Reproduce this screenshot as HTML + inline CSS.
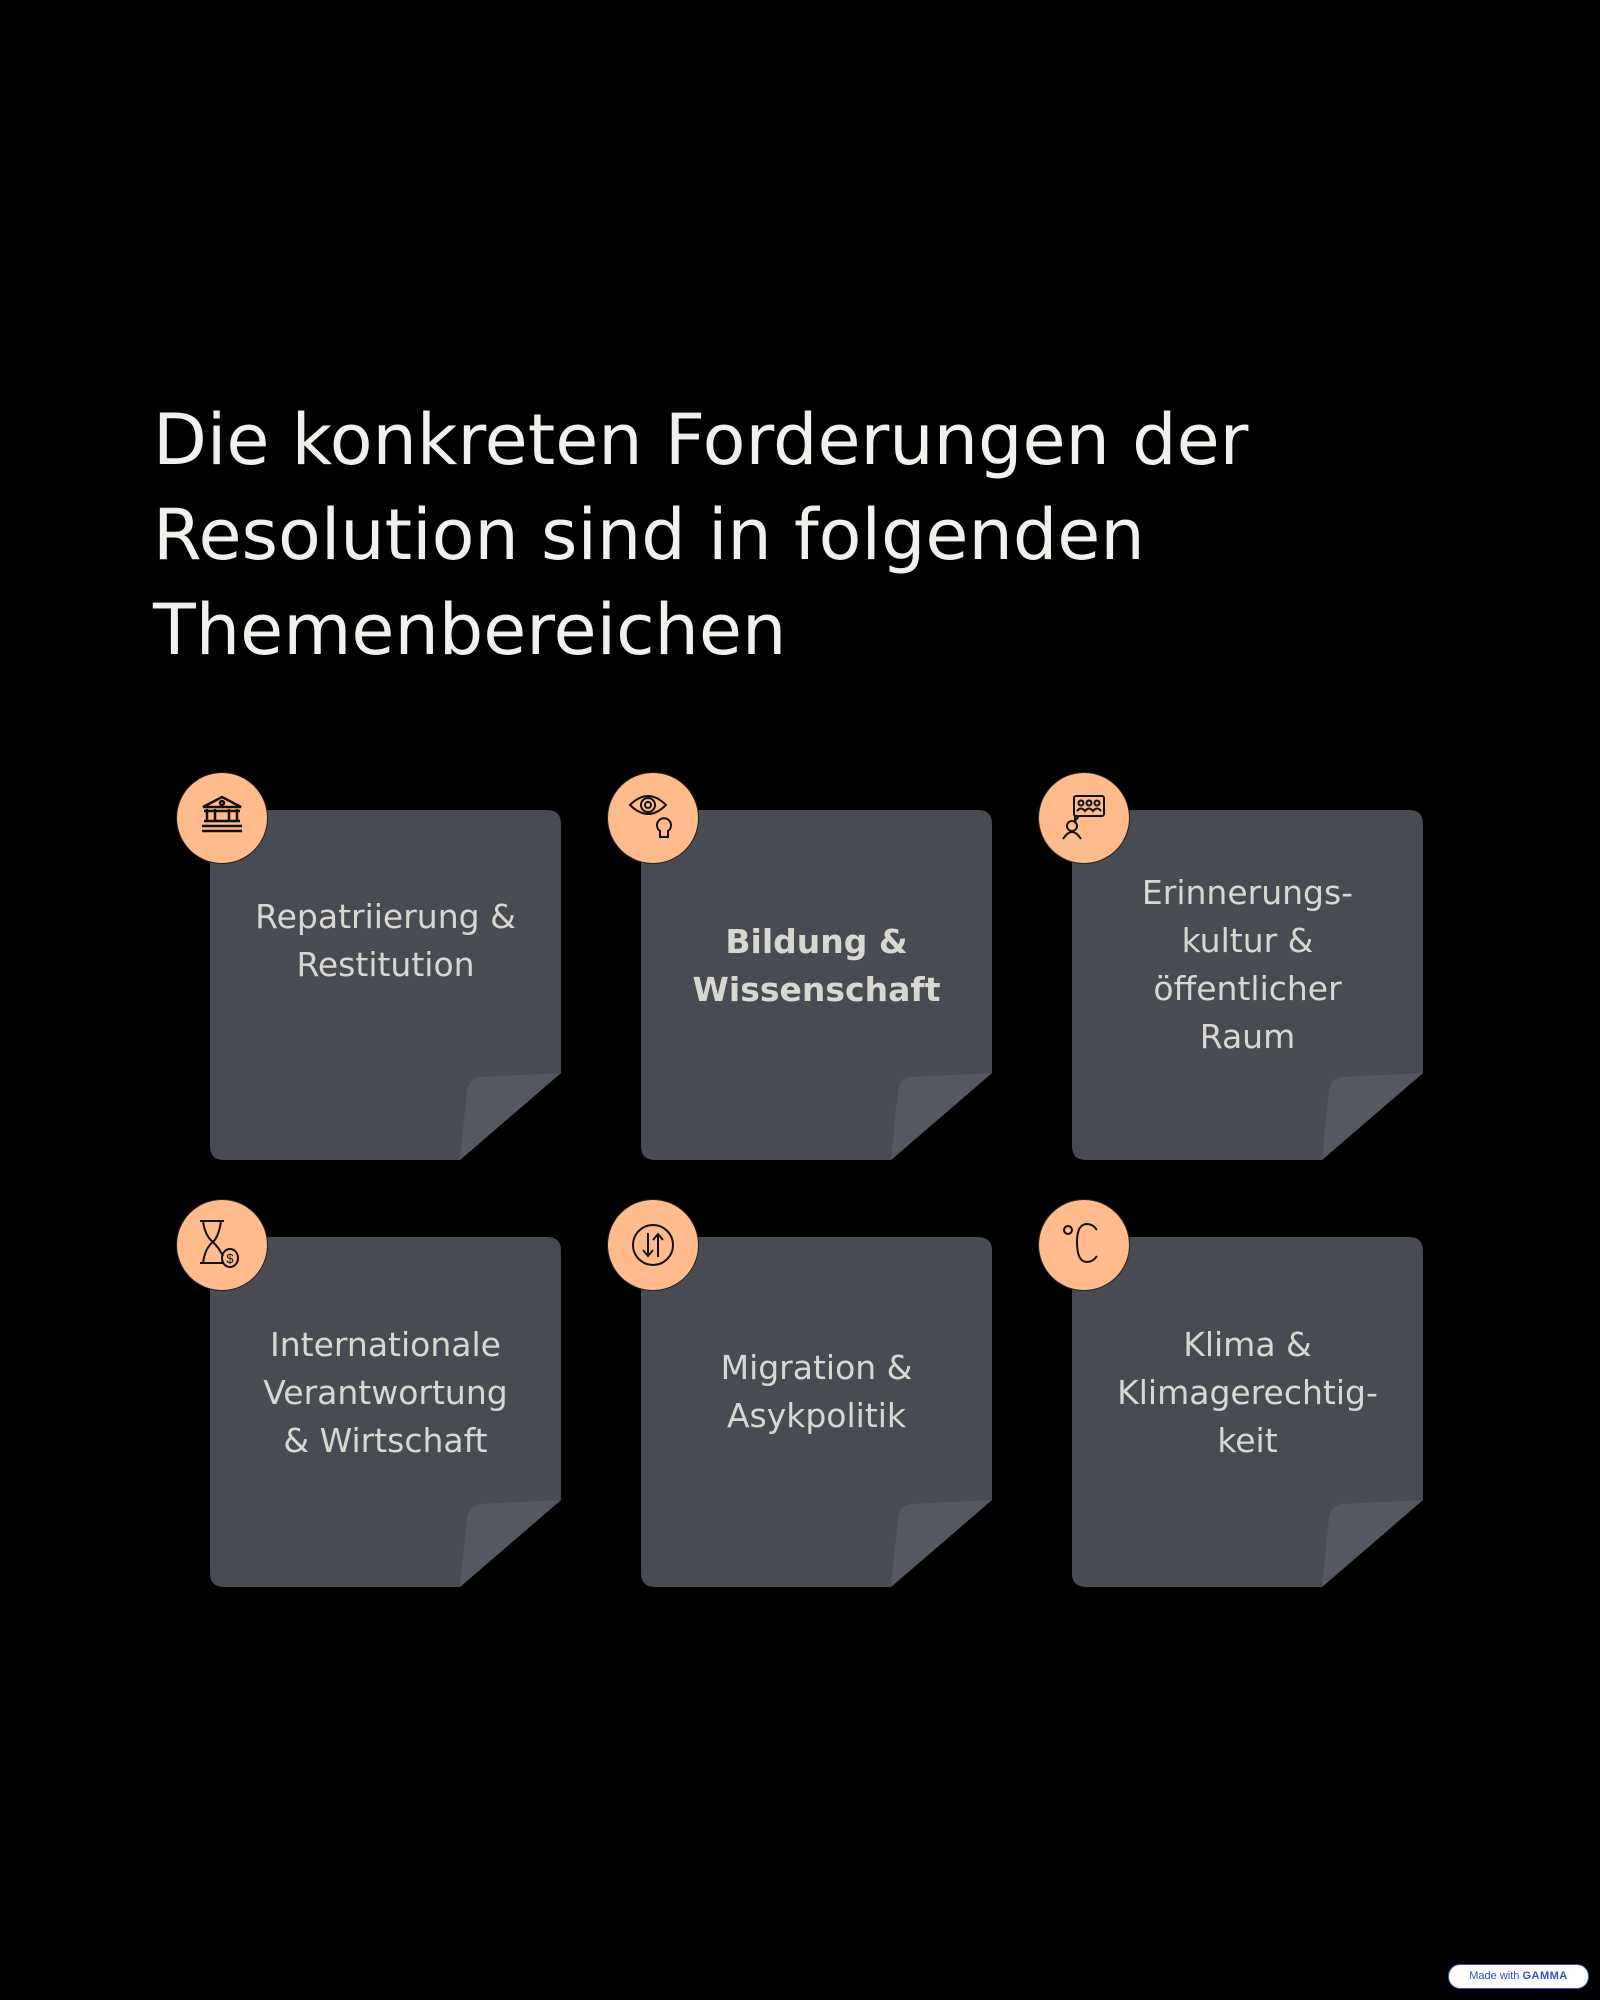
<!DOCTYPE html>
<html><head><meta charset="utf-8"><style>
body{margin:0;width:1600px;height:2000px;background:#000;position:relative;overflow:hidden;font-family:"DejaVu Sans","Liberation Sans",sans-serif}
h1{position:absolute;left:153px;top:393px;margin:0;font-size:70px;font-weight:500;line-height:95px;color:#f0f0ec;letter-spacing:0;font-family:"DejaVu Sans","Liberation Sans",sans-serif}
.card{position:absolute;width:351px;height:350px}
.card svg.bg{position:absolute;left:0;top:0}
.t{position:absolute;left:0;width:351px;text-align:center;color:#d8d8d2;font-size:33px;line-height:48px}
.b{position:absolute;width:90px;height:90px;border-radius:50%;background:#ffbb8c;left:-33px;top:-37px;box-shadow:0 0 0 1px #222}
.b svg{position:absolute;left:0;top:0}
.g{position:absolute;left:1448px;top:1964px;width:139px;height:23px;border-radius:12px;background:#fff;border:1px solid #2a55c9;font-size:11px;color:#2a55c9;text-align:center;line-height:23px;font-family:"Liberation Sans",sans-serif}
</style></head><body>
<h1>Die konkreten Forderungen der<br>Resolution sind in folgenden<br>Themenbereichen</h1>

<div class="card" style="left:210px;top:810px">
<svg class="bg" width="351" height="350"><path d="M0 14 Q0 0 14 0 H337 Q351 0 351 14 V263 L250 350 H14 Q0 350 0 336Z" fill="#484b52"/><path d="M351 263 L270 267 Q260 268 257 280 L250 350Z" fill="#555860"/></svg>
<div class="t" style="top:83px">Repatriierung &amp;<br>Restitution</div>
<div class="b"><svg width="90" height="90" fill="none" stroke="#111" stroke-width="2.5"><path d="M26 34 L45 24 L64 34 Z"/><circle cx="45" cy="30" r="2"/><path d="M30 36v12M38 36v12M52 36v12M60 36v12M27 38h36M27 48h36"/><path d="M25 53h40M25 58h40"/></svg></div>
</div>

<div class="card" style="left:641px;top:810px">
<svg class="bg" width="351" height="350"><path d="M0 14 Q0 0 14 0 H337 Q351 0 351 14 V263 L250 350 H14 Q0 350 0 336Z" fill="#484b52"/><path d="M351 263 L270 267 Q260 268 257 280 L250 350Z" fill="#555860"/></svg>
<div class="t" style="top:108px;font-weight:bold">Bildung &amp;<br>Wissenschaft</div>
<div class="b"><svg width="90" height="90" fill="none" stroke="#111" stroke-width="2"><path d="M22 32 Q40 14 58 32 Q40 50 22 32Z"/><circle cx="40" cy="32" r="7"/><circle cx="40" cy="32" r="3"/><path d="M52 58 a7 7 0 1 1 8 0 v6 h-8z"/></svg></div>
</div>

<div class="card" style="left:1072px;top:810px">
<svg class="bg" width="351" height="350"><path d="M0 14 Q0 0 14 0 H337 Q351 0 351 14 V263 L250 350 H14 Q0 350 0 336Z" fill="#484b52"/><path d="M351 263 L270 267 Q260 268 257 280 L250 350Z" fill="#555860"/></svg>
<div class="t" style="top:59px">Erinnerungs-<br>kultur &amp;<br>öffentlicher<br>Raum</div>
<div class="b"><svg width="90" height="90" fill="none" stroke="#111" stroke-width="2"><rect x="35" y="23" width="30" height="20" rx="2"/><path d="M40 43 l-4 5 v-5"/><circle cx="42" cy="30" r="2.5"/><circle cx="50" cy="30" r="2.5"/><circle cx="58" cy="30" r="2.5"/><path d="M38 38 q4-5 8 0 q4-5 8 0 q4-5 8 0"/><circle cx="33" cy="53" r="5"/><path d="M24 66 q9-14 18 0"/></svg></div>
</div>

<div class="card" style="left:210px;top:1237px">
<svg class="bg" width="351" height="350"><path d="M0 14 Q0 0 14 0 H337 Q351 0 351 14 V263 L250 350 H14 Q0 350 0 336Z" fill="#484b52"/><path d="M351 263 L270 267 Q260 268 257 280 L250 350Z" fill="#555860"/></svg>
<div class="t" style="top:84px">Internationale<br>Verantwortung<br>&amp; Wirtschaft</div>
<div class="b"><svg width="90" height="90" fill="none" stroke="#111" stroke-width="2"><path d="M23 21h24M23 63h24M26 21 Q28 36 36 42 Q28 48 26 63M44 21 Q42 36 36 42 Q42 48 46 56"/><ellipse cx="53" cy="58" rx="8" ry="9"/><text x="53" y="63" font-size="13" text-anchor="middle" fill="#111" stroke="none" font-family="Liberation Sans">$</text></svg></div>
</div>

<div class="card" style="left:641px;top:1237px">
<svg class="bg" width="351" height="350"><path d="M0 14 Q0 0 14 0 H337 Q351 0 351 14 V263 L250 350 H14 Q0 350 0 336Z" fill="#484b52"/><path d="M351 263 L270 267 Q260 268 257 280 L250 350Z" fill="#555860"/></svg>
<div class="t" style="top:107px">Migration &amp;<br>Asykpolitik</div>
<div class="b"><svg width="90" height="90" fill="none" stroke="#111" stroke-width="2"><circle cx="45" cy="45" r="20"/><path d="M40 33v22M35 50l5 6 5-6M50 57v-22M45 40l5-6 5 6"/></svg></div>
</div>

<div class="card" style="left:1072px;top:1237px">
<svg class="bg" width="351" height="350"><path d="M0 14 Q0 0 14 0 H337 Q351 0 351 14 V263 L250 350 H14 Q0 350 0 336Z" fill="#484b52"/><path d="M351 263 L270 267 Q260 268 257 280 L250 350Z" fill="#555860"/></svg>
<div class="t" style="top:84px">Klima &amp;<br>Klimagerechtig-<br>keit</div>
<div class="b"><svg width="90" height="90" fill="none" stroke="#111" stroke-width="2"><circle cx="29" cy="30" r="4"/><path d="M58 30 Q54 24 48 24 Q38 24 38 42 Q38 62 48 62 Q54 62 58 56"/></svg></div>
</div>

<div class="g">Made with <b style="letter-spacing:0.5px">GAMMA</b></div>
</body></html>
